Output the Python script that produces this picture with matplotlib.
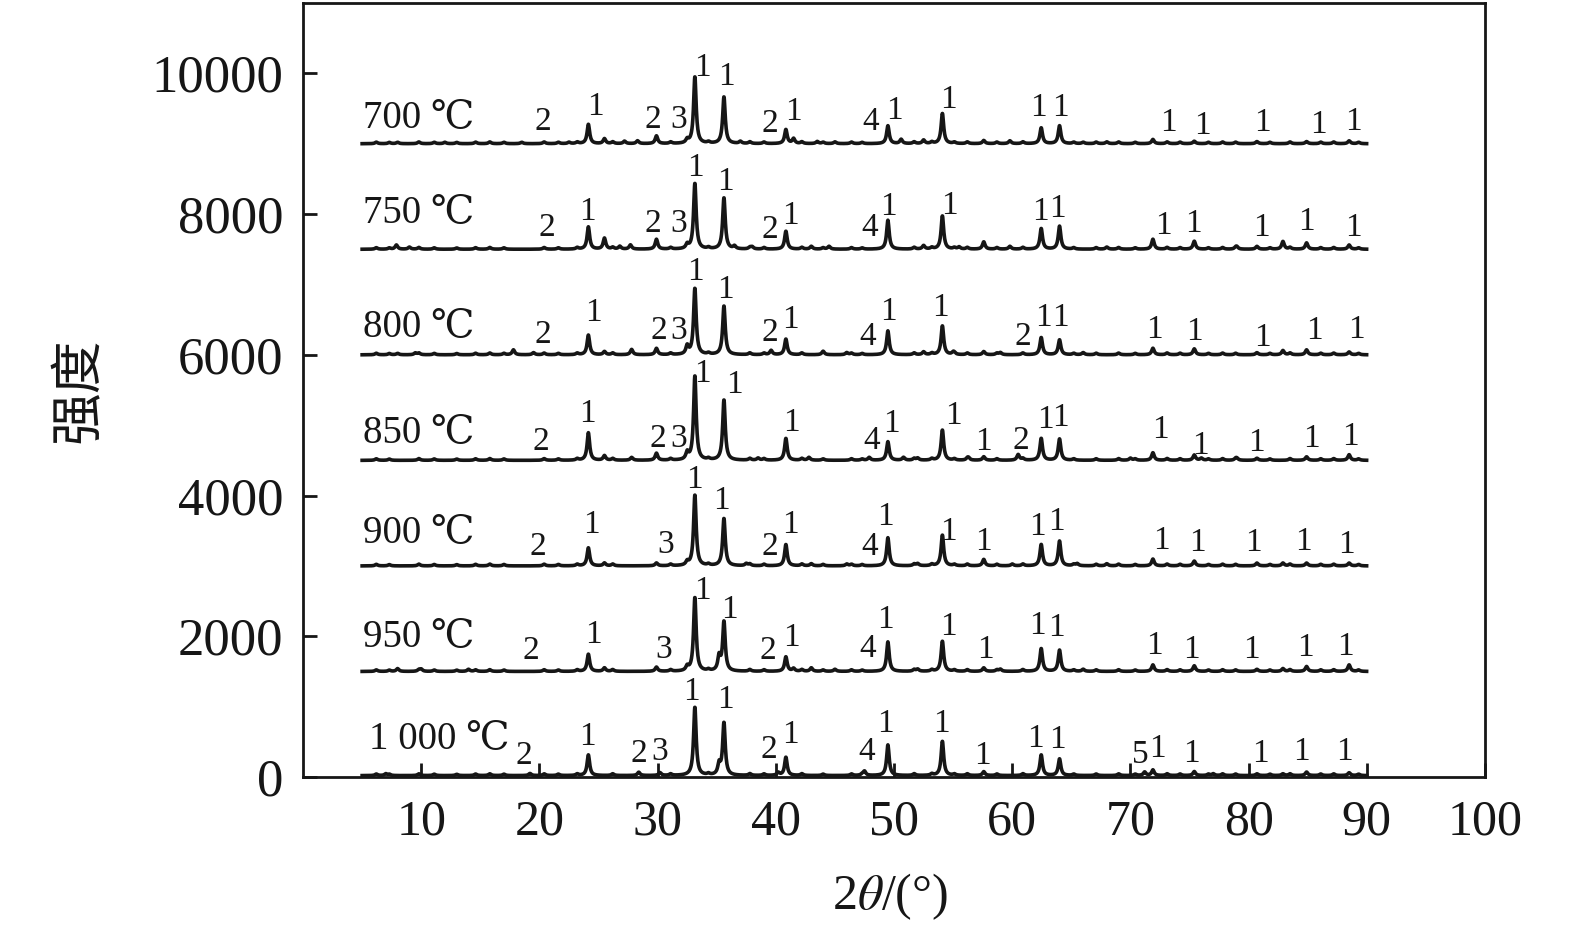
import numpy as np
import matplotlib
matplotlib.use("Agg")
import matplotlib.pyplot as plt

plt.rcParams["font.family"] = ["Liberation Serif", "DejaVu Serif", "Noto Sans CJK SC"]
plt.rcParams["mathtext.fontset"] = "stix"

# sample temperatures, vertical offsets of each pattern
temps = ["700 ℃", "750 ℃", "800 ℃", "850 ℃", "900 ℃", "950 ℃", "1 000 ℃"]
offsets = [9000, 7500, 6000, 4500, 3000, 1500, 20]
label_x = [5.1, 5.1, 5.1, 5.1, 5.1, 5.1, 5.6]
label_y = [9357, 8006, 6385, 4878, 3455, 1977, 526]

# main reflections (2theta) shared by all patterns
main_pos = [24.14, 33.15, 35.61, 40.85, 49.48, 54.09, 57.59, 62.45, 64.0, 71.9, 75.4, 80.7, 84.9, 88.5]
main_h = {
    "700 ℃": [275, 950, 665, 200, 255, 430, 45, 225, 255, 60, 35, 30, 30, 40],
    "750 ℃": [317, 935, 730, 256, 412, 474, 104, 294, 327, 142, 114, 40, 90, 60],
    "800 ℃": [280, 943, 693, 223, 340, 411, 45, 245, 212, 93, 84, 30, 70, 40],
    "850 ℃": [392, 1199, 858, 312, 265, 431, 50, 312, 303, 108, 75, 30, 50, 80],
    "900 ℃": [257, 1007, 674, 304, 400, 438, 91, 304, 352, 97, 68, 40, 40, 40],
    "950 ℃": [245, 1050, 700, 207, 420, 430, 50, 325, 302, 93, 80, 30, 70, 93],
    "1 000 ℃": [294, 972, 744, 260, 436, 488, 55, 294, 237, 80, 57, 25, 50, 40],
}
# weak reflections / background bumps
minor_pos = {
    "700 ℃": [8.0, 12.0, 18.5, 22.5, 25.5, 27.2, 28.3, 29.9, 32.5, 37.0, 41.5, 43.5, 45.0, 50.6, 52.5, 59.8, 66.0, 68.0],
    "750 ℃": [7.9, 9.0, 25.5, 26.8, 27.7, 29.9, 32.5, 36.5, 38.0, 43.0, 44.5, 52.5, 55.5, 59.8, 68.0, 79.0, 82.9],
    "800 ℃": [8.0, 9.5, 17.8, 19.5, 25.5, 27.8, 29.9, 32.5, 39.6, 44.0, 46.0, 52.5, 55.0, 59.0, 66.0, 82.9],
    "850 ℃": [25.5, 27.8, 29.9, 32.5, 38.5, 42.8, 47.9, 50.8, 52.0, 56.3, 60.5, 70.0, 76.0, 79.0],
    "900 ℃": [25.5, 29.9, 32.5, 37.5, 43.0, 46.0, 52.0, 60.0, 65.5, 68.0, 82.9],
    "950 ℃": [8.0, 10.0, 14.0, 25.5, 29.9, 32.5, 35.2, 41.5, 43.0, 45.0, 52.0, 59.0, 66.0, 82.9],
    "1 000 ℃": [7.0, 19.2, 28.4, 30.2, 35.2, 40.2, 47.5, 71.2, 77.0, 82.9],
}
minor_h = {
    "700 ℃": [20, 20, 20, 20, 70, 35, 40, 110, 50, 30, 70, 30, 25, 60, 50, 40, 20, 25],
    "750 ℃": [60, 30, 156, 40, 60, 140, 60, 40, 30, 40, 40, 50, 30, 40, 30, 30, 110],
    "800 ℃": [20, 25, 70, 30, 45, 75, 90, 117, 60, 30, 30, 40, 30, 30, 30, 60],
    "850 ℃": [65, 40, 100, 100, 30, 40, 40, 40, 30, 30, 80, 30, 30, 25],
    "900 ℃": [40, 40, 50, 30, 30, 25, 30, 25, 30, 30, 40],
    "950 ℃": [40, 30, 30, 50, 60, 60, 200, 40, 50, 30, 30, 30, 30, 40],
    "1 000 ℃": [25, 30, 47, 40, 150, 40, 60, 50, 25, 25],
}
# faint background texture seen on every pattern
bg_pos = [6.2, 7.3, 9.8, 11.1, 13.0, 14.6, 15.8, 17.0, 20.4, 21.6, 23.2, 26.2, 31.1, 34.3, 37.8, 39.0,
          42.2, 44.0, 46.4, 47.3, 51.7, 53.2, 55.1, 56.2, 58.7, 60.9, 65.2, 67.1, 69.0, 70.4, 73.1, 74.2,
          76.6, 77.8, 78.9, 81.8, 83.5, 86.1, 87.2, 89.3]
bg_h = [22, 18, 25, 20, 18, 22, 25, 20, 24, 20, 22, 25, 22, 20, 25, 22,
        25, 20, 22, 18, 25, 22, 20, 24, 22, 25, 20, 22, 24, 20, 25, 22,
        20, 24, 22, 20, 25, 22, 24, 20]

# phase marks: (2theta, y, text) per pattern
marks = {
    "700 ℃": [(20.3, 9314, "2"), (24.7, 9527, "1"), (29.6, 9343, "2"), (31.8, 9343, "3"), (33.8, 10082, "1"),
              (35.8, 9954, "1"), (39.5, 9286, "2"), (41.5, 9456, "1"), (48.0, 9314, "4"), (50.0, 9470, "1"),
              (54.6, 9627, "1"), (62.2, 9513, "1"), (64.1, 9513, "1"), (73.2, 9300, "1"), (76.1, 9257, "1"),
              (81.2, 9300, "1"), (85.9, 9271, "1"), (88.9, 9314, "1")],
    "750 ℃": [(20.6, 7807, "2"), (24.1, 8034, "1"), (29.6, 7864, "2"), (31.8, 7864, "3"), (33.2, 8660, "1"),
              (35.7, 8461, "1"), (39.5, 7778, "2"), (41.2, 7977, "1"), (47.98, 7807, "4"), (49.5, 8105, "1"),
              (54.7, 8120, "1"), (62.4, 8034, "1"), (63.8, 8077, "1"), (72.8, 7835, "1"), (75.3, 7864, "1"),
              (81.1, 7807, "1"), (84.9, 7892, "1"), (88.9, 7807, "1")],
    "800 ℃": [(20.3, 6285, "2"), (24.6, 6598, "1"), (30.1, 6342, "2"), (31.8, 6342, "3"), (33.2, 7181, "1"),
              (35.7, 6925, "1"), (39.5, 6314, "2"), (41.2, 6499, "1"), (47.8, 6257, "4"), (49.5, 6612, "1"),
              (53.9, 6669, "1"), (60.9, 6257, "2"), (62.6, 6527, "1"), (64.1, 6527, "1"), (72.0, 6356, "1"),
              (75.4, 6328, "1"), (81.2, 6243, "1"), (85.6, 6342, "1"), (89.1, 6356, "1")],
    "850 ℃": [(20.1, 4764, "2"), (24.1, 5162, "1"), (30.0, 4806, "2"), (31.8, 4806, "3"), (33.8, 5731, "1"),
              (36.5, 5574, "1"), (41.3, 5034, "1"), (48.1, 4778, "4"), (49.8, 5020, "1"), (55.0, 5133, "1"),
              (57.6, 4764, "1"), (60.7, 4778, "2"), (62.8, 5077, "1"), (64.1, 5105, "1"), (72.5, 4934, "1"),
              (75.9, 4707, "1"), (80.7, 4749, "1"), (85.3, 4806, "1"), (88.6, 4835, "1")],
    "900 ℃": [(19.9, 3271, "2"), (24.4, 3583, "1"), (30.7, 3299, "3"), (33.1, 4223, "1"), (35.4, 3925, "1"),
              (39.5, 3271, "2"), (41.2, 3583, "1"), (47.9, 3271, "4"), (49.3, 3697, "1"), (54.6, 3484, "1"),
              (57.6, 3342, "1"), (62.1, 3555, "1"), (63.7, 3626, "1"), (72.6, 3356, "1"), (75.7, 3327, "1"),
              (80.4, 3327, "1"), (84.6, 3342, "1"), (88.3, 3299, "1")],
    "950 ℃": [(19.3, 1792, "2"), (24.6, 2019, "1"), (30.5, 1806, "3"), (33.8, 2645, "1"), (36.1, 2375, "1"),
              (39.3, 1792, "2"), (41.3, 1977, "1"), (47.8, 1820, "4"), (49.3, 2233, "1"), (54.6, 2133, "1"),
              (57.7, 1806, "1"), (62.1, 2147, "1"), (63.7, 2119, "1"), (72.0, 1863, "1"), (75.2, 1806, "1"),
              (80.2, 1806, "1"), (84.8, 1834, "1"), (88.2, 1849, "1")],
    "1 000 ℃": [(18.7, 299, "2"), (24.1, 569, "1"), (28.4, 327, "2"), (30.2, 356, "3"), (32.9, 1209, "1"),
                (35.7, 1095, "1"), (39.4, 384, "2"), (41.2, 597, "1"), (47.7, 356, "4"), (49.3, 754, "1"),
                (54.0, 754, "1"), (57.5, 299, "1"), (62.0, 540, "1"), (63.8, 526, "1"), (70.8, 313, "5"),
                (72.3, 398, "1"), (75.2, 327, "1"), (81.0, 327, "1"), (84.5, 356, "1"), (88.1, 356, "1")],
}

two_theta = np.arange(5.0, 90.0, 0.02)


def pattern(name, base):
    pos = np.array(main_pos + minor_pos[name] + bg_pos)
    hts = np.array(main_h[name] + minor_h[name] + bg_h, dtype=float)
    g = 0.13
    y = np.full_like(two_theta, float(base))
    for p, h in zip(pos, hts):
        y += h / (1.0 + ((two_theta - p) / g) ** 2)
    return y


fig = plt.figure(figsize=(15.75, 9.32), dpi=100)
ax = fig.add_axes([0.1924, 0.1663, 0.7505, 0.8305])

ink = "#161616"
for name, base, lx, ly in zip(temps, offsets, label_x, label_y):
    ax.plot(two_theta, pattern(name, base), color=ink, lw=2.6, solid_joinstyle="round")
    ax.text(lx, ly, name, fontsize=28, ha="left", va="center", color=ink)
    for mx, my, t in marks[name]:
        ax.text(mx, my, t, fontsize=24, ha="center", va="center", color=ink)

ax.set_xlim(0, 100)
ax.set_ylim(0, 11000)
ax.set_xticks(np.arange(10, 101, 10))
ax.set_yticks(np.arange(0, 10001, 2000))
ax.tick_params(axis="x", direction="in", length=10, width=2, labelsize=36, pad=16, colors=ink)
ax.tick_params(axis="y", direction="in", length=10, width=2, labelsize=38, pad=14, colors=ink)
for s in ax.spines.values():
    s.set_linewidth(2.0)
    s.set_color(ink)

ax.set_xlabel("2$\\mathit{\\theta}$/(°)", fontsize=36, color=ink)
ax.xaxis.set_label_coords(0.497, -0.155)
ax.xaxis.label.set_va("center")
ax.set_ylabel("强度", fontsize=38, family=["Noto Sans CJK SC"], color=ink)
ax.yaxis.set_label_coords(-0.19, 0.5)
ax.yaxis.label.set_va("center")

fig.savefig("out.png", dpi=100)
